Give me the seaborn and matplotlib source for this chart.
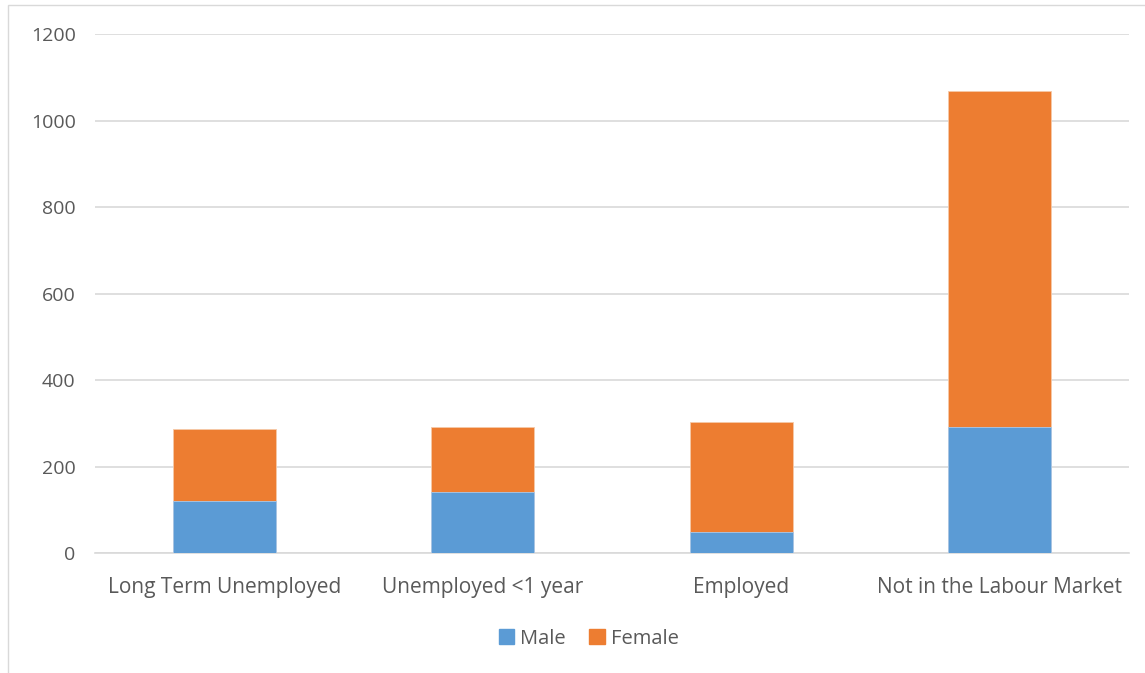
import matplotlib
matplotlib.use('Agg')
import matplotlib.pyplot as plt
import seaborn as sbn
import pandas as pd
import numpy as np
from matplotlib.patches import Rectangle, Patch

# 데이터
categories = ['Long Term Unemployed', 'Unemployed <1 year', 'Employed', 'Not in the Labour Market']
male = [121, 142, 50, 291]
female = [167, 149, 253, 778]
yticks = [0, 200, 400, 600, 800, 1000, 1200]

df = pd.DataFrame({'category': categories, 'Male': male, 'Female': female})
df['total'] = df['Male'] + df['Female']

sbn.set_style('white')
plt.rcParams['font.family'] = ['Open Sans', 'DejaVu Sans']

fig = plt.figure(figsize=(11.45, 6.73), dpi=100)
ax = fig.add_axes([0.083, 0.178, 0.903, 0.771])

blue = '#5b9bd5'
orange = '#ed7d31'
grey_txt = '#595959'

sbn.barplot(data=df, x='category', y='total', color=orange, width=0.4, saturation=1, ax=ax,
            zorder=3, linewidth=0.6, edgecolor='#f6c9a8')
sbn.barplot(data=df, x='category', y='Male', color=blue, width=0.4, saturation=1, ax=ax,
            zorder=4, linewidth=0.6, edgecolor='#a9c9ea')

ax.set_ylim(0, 1200)
ax.set_yticks(yticks)
ax.set_xlim(-0.5, len(categories) - 0.5)
ax.yaxis.grid(True, color='#d9d9d9', linewidth=1.2, zorder=0)
ax.set_axisbelow(True)
for s in ['top', 'right', 'left']:
    ax.spines[s].set_visible(False)
ax.spines['bottom'].set_color('#d9d9d9')
ax.spines['bottom'].set_linewidth(1.2)
ax.tick_params(axis='both', length=0, labelsize=14, labelcolor=grey_txt)
ax.tick_params(axis='x', labelsize=15, pad=17)
ax.tick_params(axis='y', pad=14)
ax.set_xlabel('')
ax.set_ylabel('')

handles = [Patch(color=blue, label='Male'), Patch(color=orange, label='Female')]
leg = fig.legend(handles=handles, loc='center', bbox_to_anchor=(0.514, 0.051), ncol=2, frameon=False,
                 fontsize=14.5, handlelength=0.75, handleheight=0.75, handletextpad=0.3, columnspacing=1.2)
for t in leg.get_texts():
    t.set_color(grey_txt)

# 차트 테두리
fig.patches.append(Rectangle((0.007, -0.01), 1.0, 1.003, transform=fig.transFigure,
                             fill=False, edgecolor='#d9d9d9', linewidth=1))

fig.savefig('out.png', dpi=100)
